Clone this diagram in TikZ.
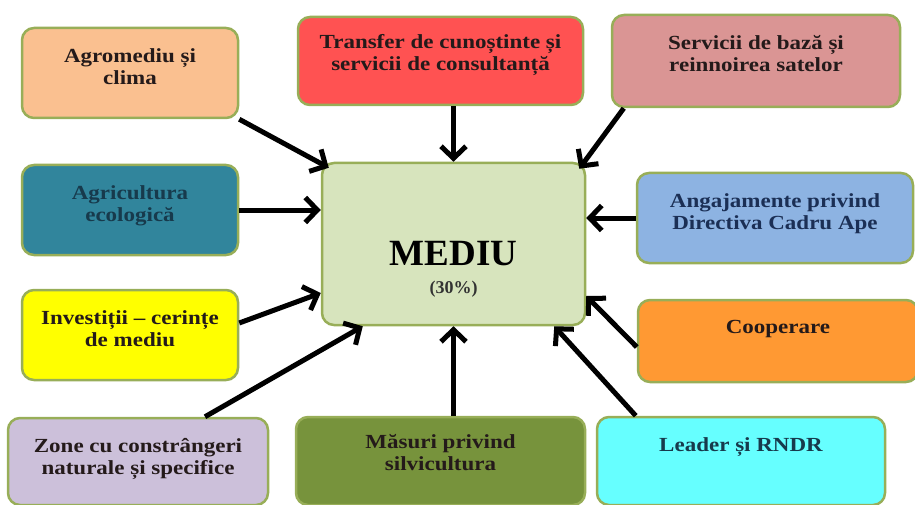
\documentclass[tikz,border=0pt]{standalone}
\usepackage{fontspec}
\setmainfont{Liberation Serif}
\newfontfamily\boxfont[FakeStretch=1.15]{Liberation Serif}
\usetikzlibrary{arrows.meta}
\definecolor{rim}{HTML}{98AE58}
\definecolor{ink}{HTML}{241A1A}
\definecolor{navy}{HTML}{1B2F55}
\definecolor{teal}{HTML}{173A4C}
\definecolor{agrofill}{HTML}{FAC090}
\definecolor{transferfill}{HTML}{FF5252}
\definecolor{servfill}{HTML}{DA9594}
\definecolor{ecofill}{HTML}{31859C}
\definecolor{investfill}{HTML}{FFFF00}
\definecolor{zonefill}{HTML}{CCC0DA}
\definecolor{silvfill}{HTML}{77933C}
\definecolor{leaderfill}{HTML}{66FFFF}
\definecolor{coopfill}{HTML}{FF9933}
\definecolor{apefill}{HTML}{8DB3E2}
\definecolor{mediufill}{HTML}{D7E4BD}
\begin{document}
\begin{tikzpicture}[x=1pt,y=-1pt,
    box/.style={draw=rim, line width=2.5pt, rounded corners=12pt, inner sep=0pt},
    lbl/.style={anchor=north, yshift=-18pt, align=center, text=ink,
        font=\boxfont\bfseries\fontsize{20}{22}\selectfont},
    feed/.style={line width=5pt, -{Straight Barb[length=12pt,width=25pt]}}]
    \useasboundingbox (0,0) rectangle (915,505);
    \clip (0,0) rectangle (915,505);

    % centre
    \node[box, fill=mediufill, minimum width=263pt, minimum height=162pt,
        label={[anchor=north, yshift=-76pt, text=black, font=\bfseries\fontsize{37}{40}\selectfont]north:MEDIU},
        label={[anchor=north, yshift=-116pt, text=black!80, font=\bfseries\fontsize{18}{20}\selectfont]north:(30\%)}]
        (mediu) at (453.5,244) {};

    % left column
    \node[box, fill=agrofill, minimum width=216pt, minimum height=90pt,
        label={[lbl]north:Agromediu și\\clima}] (agro) at (130,73) {};
    \node[box, fill=ecofill, minimum width=216pt, minimum height=90pt,
        label={[lbl, text=teal]north:Agricultura\\ecologică}] (eco) at (130,210) {};
    \node[box, fill=investfill, minimum width=216pt, minimum height=90pt,
        label={[lbl]north:Investiții – cerințe\\de mediu}] (invest) at (130,335) {};

    % top row
    \node[box, fill=transferfill, minimum width=285pt, minimum height=88pt,
        label={[lbl, yshift=3pt]north:Transfer de cunoștinte și\\servicii de consultanță}] (transfer) at (440.5,61) {};
    \node[box, fill=servfill, minimum width=288pt, minimum height=92pt,
        label={[lbl]north:Servicii de bază și\\reinnoirea satelor}] (serv) at (756,61) {};

    % right column
    \node[box, fill=apefill, minimum width=276pt, minimum height=90pt,
        label={[lbl, text=navy]north:Angajamente privind\\Directiva Cadru Ape}] (ape) at (775,218) {};
    \node[box, fill=coopfill, minimum width=280pt, minimum height=82pt,
        label={[lbl]north:Cooperare}] (coop) at (778,341) {};

    % bottom row
    \node[box, fill=zonefill, minimum width=260pt, minimum height=87pt,
        label={[lbl]north:Zone cu constrângeri\\naturale și specifice}] (zone) at (138,461.5) {};
    \node[box, fill=silvfill, minimum width=289pt, minimum height=88pt,
        label={[lbl, yshift=3pt]north:Măsuri privind\\silvicultura}] (silv) at (440.5,461) {};
    \node[box, fill=leaderfill, minimum width=288pt, minimum height=88pt,
        label={[lbl, text=teal]north:Leader și RNDR}] (leader) at (741,461) {};

    % arrows into MEDIU
    \draw[feed] (agro.south east) -- ([shift={(8,6)}]mediu.north west);
    \draw[feed] (transfer.south -| mediu.north) -- (mediu.north);
    \draw[feed] ([xshift=13pt]serv.south west) -- ([shift={(-7,7)}]mediu.north east);
    \draw[feed] (eco.east) -- (eco.east -| mediu.west);
    \draw[feed] ([yshift=12pt]invest.east) -- ([yshift=-49pt]mediu.west);
    \draw[feed] ([xshift=67pt]zone.north) -- ([xshift=42pt]mediu.south west);
    \draw[feed] (silv.north -| mediu.south) -- (mediu.south);
    \draw[feed] ([xshift=40pt]leader.north west) -- ([xshift=-32pt]mediu.south east);
    \draw[feed] ([yshift=-6pt]coop.west) -- ([yshift=-52pt]mediu.east);
    \draw[feed] (ape.west) -- (ape.west -| mediu.east);
\end{tikzpicture}
\end{document}
